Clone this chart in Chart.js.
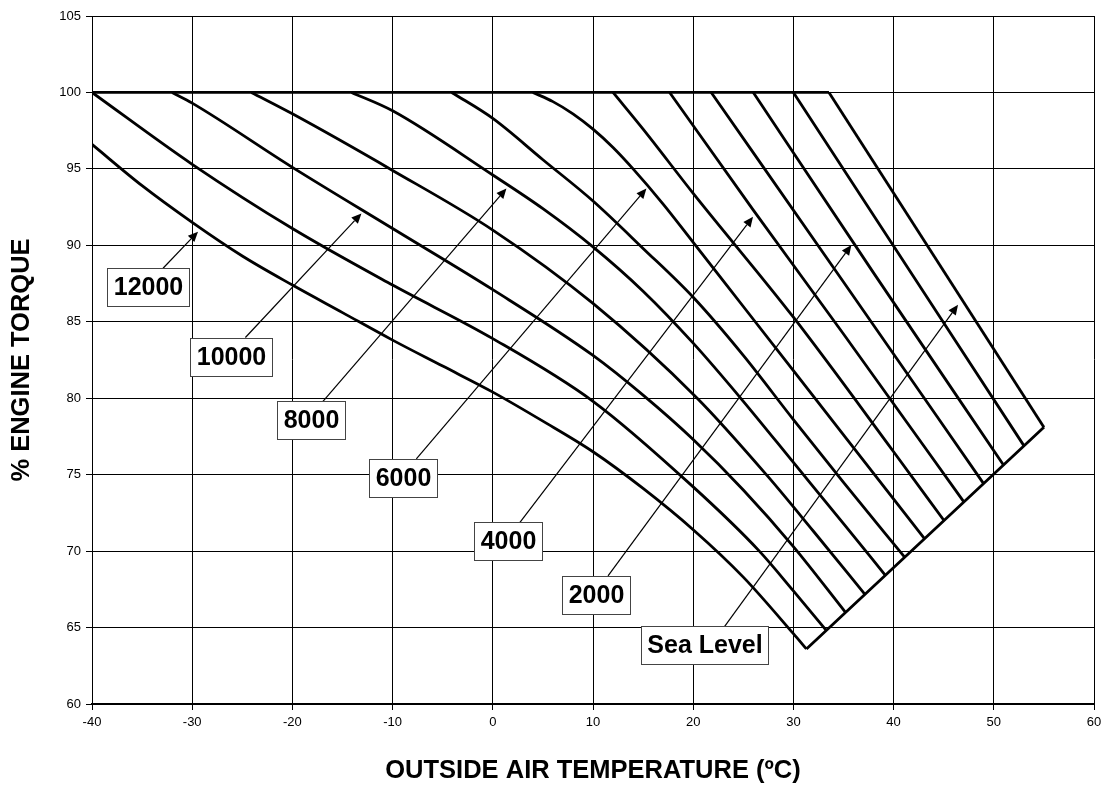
<!DOCTYPE html>
<html>
<head>
<meta charset="utf-8">
<title>% Engine torque vs outside air temperature</title>
<script src="https://cdn.jsdelivr.net/npm/chart.js@4.4.1/dist/chart.umd.min.js"></script>
<style>
  html, body { margin: 0; padding: 0; background: #fff; }
  #wrap { width: 1107px; height: 786px; }
</style>
</head>
<body>
<div id="wrap"><canvas id="torqueChart" width="1107" height="786"></canvas></div>
<script>
"use strict";

// pressure altitude curves, temperature in ºC and torque in %
const altitudes = ["12000", "11000", "10000", "9000", "8000", "7000", "6000",
                   "5000", "4000", "3000", "2000", "1000", "Sea Level"];

const temp12000 = [-40, -35, -30, -25, -20, -15, -10, -5, 0, 5, 10, 15, 20, 25, 30, 31.3];
const torque12000 = [96.6, 93.9, 91.5, 89.3, 87.4, 85.6, 83.8, 82.1, 80.4, 78.5, 76.5, 74.1, 71.4, 68.3, 64.6, 63.6];
const temp11000 = [-40, -30, -20, -10, 0, 10, 20, 26.6, 30, 33.3];
const torque11000 = [100, 95.3, 91.1, 87.4, 83.9, 79.8, 74.2, 70.0, 67.4, 64.8];
const temp10000 = [-32, -30, -20, -10, 0, 10, 15, 20, 25, 30, 35.2];
const torque10000 = [100, 99.3, 95.1, 91.1, 87.1, 82.8, 80.2, 77.3, 74.0, 70.3, 66.0];
const temp9000 = [-24.1, -20, -10, 0, 10, 20.4, 27.3, 32, 37.1];
const torque9000 = [100, 98.6, 94.9, 91.0, 86.2, 80.0, 75.0, 71.3, 67.2];
const temp8000 = [-14.1, -10, 0, 5, 10, 15, 20, 25, 30, 35, 39.2];
const torque8000 = [100, 98.8, 94.6, 92.4, 89.9, 87.0, 83.6, 79.8, 75.8, 71.8, 68.4];
const temp7000 = [-4.1, 0, 5, 10, 15, 20, 25, 30, 35, 41.1];
const torque7000 = [100, 98.3, 95.6, 92.9, 89.8, 86.6, 82.8, 78.6, 74.5, 69.6];
const temp6000 = [4, 6, 8, 10, 12, 14, 17, 20, 25, 30, 35, 43.1];
const torque6000 = [100, 99.4, 98.6, 97.6, 96.4, 95.0, 92.7, 90.2, 86.0, 81.8, 77.6, 70.8];
const temp5000 = [12, 15, 20, 30, 40, 45.03];
const torque5000 = [100, 97.6, 93.4, 85.3, 76.5, 72.0];
const temp4000 = [17.65, 26, 35, 47.03];
const torque4000 = [100, 92.3, 84.2, 73.2];
const temp3000 = [21.8, 35, 49.0];
const torque3000 = [100, 87.6, 74.4];
const temp2000 = [26, 38, 51.0];
const torque2000 = [100, 88.2, 75.6];
const temp1000 = [30, 53.0];
const torque1000 = [100, 76.9];
const tempSea = [33.55, 55.0];
const torqueSea = [100, 78.1];

// 100 % torque limit and the lower edge joining the curve ends
const limitTemp = [-40, 33.55];
const limitTorque = [100, 100];
const edgeTemp = [31.3, 55.0];
const edgeTorque = [63.6, 78.1];

// axis ticks
const tempTicks = [-40, -30, -20, -10, 0, 10, 20, 30, 40, 50, 60];
const torqueTicks = [60, 65, 70, 75, 80, 85, 90, 95, 100, 105];

// boxed labels with arrows
const calloutText = ["12000", "10000", "8000", "6000", "4000", "2000", "Sea Level"];

const curveTemps = [temp12000, temp11000, temp10000, temp9000, temp8000, temp7000, temp6000,
                    temp5000, temp4000, temp3000, temp2000, temp1000, tempSea];
const curveTorques = [torque12000, torque11000, torque10000, torque9000, torque8000, torque7000, torque6000,
                      torque5000, torque4000, torque3000, torque2000, torque1000, torqueSea];

const FONT = "'Liberation Sans', Arial, Helvetica, sans-serif";

function toPoints(xs, ys) {
    return xs.map((x, i) => ({ x: x, y: ys[i] }));
}

function lineSet(label, xs, ys) {
    return {
        label: label,
        data: toPoints(xs, ys),
        showLine: true,
        borderColor: "#000",
        borderWidth: 2.8,
        pointRadius: 0,
        fill: false,
        cubicInterpolationMode: "monotone"
    };
}

const datasets = altitudes.map((alt, i) => lineSet(alt, curveTemps[i], curveTorques[i]));
datasets.push(lineSet("limit", limitTemp, limitTorque));
datasets.push(lineSet("edge", edgeTemp, edgeTorque));

// where the boxes sit and where their arrows point, in chart units
const calloutLayout = [
    { box: [-34.44, 87.25], from: [-32.91, 88.50], to: [-29.42, 90.89] },
    { box: [-26.11, 82.70], from: [-24.69, 83.97], to: [-13.11, 92.09] },
    { box: [-18.12, 78.58], from: [-16.95, 79.80], to: [1.36, 93.72] },
    { box: [-8.94, 74.80], from: [-7.63, 76.04], to: [15.33, 93.72] },
    { box: [1.47, 70.63], from: [2.69, 71.87], to: [25.97, 91.87] },
    { box: [10.25, 67.14], from: [11.50, 68.38], to: [35.79, 90.02] },
    { box: [21.13, 63.85], from: [23.14, 65.08], to: [46.43, 86.11] }
];

const calloutPlugin = {
    id: "callouts",
    afterDatasetsDraw(chart) {
        const ctx = chart.ctx;
        const xs = chart.scales.x;
        const ys = chart.scales.y;
        ctx.save();
        calloutText.forEach((text, i) => {
            const lay = calloutLayout[i];
            const x1 = xs.getPixelForValue(lay.from[0]);
            const y1 = ys.getPixelForValue(lay.from[1]);
            const x2 = xs.getPixelForValue(lay.to[0]);
            const y2 = ys.getPixelForValue(lay.to[1]);
            const ang = Math.atan2(y2 - y1, x2 - x1);
            const headLen = 10, headW = 4.5;
            const bx = x2 - headLen * Math.cos(ang);
            const by = y2 - headLen * Math.sin(ang);

            ctx.strokeStyle = "#000";
            ctx.lineWidth = 1.2;
            ctx.beginPath();
            ctx.moveTo(x1, y1);
            ctx.lineTo(bx, by);
            ctx.stroke();

            ctx.fillStyle = "#000";
            ctx.beginPath();
            ctx.moveTo(x2, y2);
            ctx.lineTo(bx - headW * Math.sin(ang), by + headW * Math.cos(ang));
            ctx.lineTo(bx + headW * Math.sin(ang), by - headW * Math.cos(ang));
            ctx.closePath();
            ctx.fill();

            // label box
            ctx.font = "bold 25px " + FONT;
            const w = Math.round(ctx.measureText(text).width + 12);
            const h = 38;
            const cx = xs.getPixelForValue(lay.box[0]);
            const cy = ys.getPixelForValue(lay.box[1]);
            const left = Math.round(cx - w / 2) + 0.5;
            const top = Math.round(cy - h / 2) + 0.5;
            ctx.fillStyle = "#fff";
            ctx.fillRect(left, top, w, h);
            ctx.strokeStyle = "#444";
            ctx.lineWidth = 1;
            ctx.strokeRect(left, top, w, h);
            ctx.fillStyle = "#000";
            ctx.textAlign = "center";
            ctx.textBaseline = "middle";
            ctx.fillText(text, left + w / 2, top + h / 2 + 1);
        });
        ctx.restore();
    }
};

new Chart(document.getElementById("torqueChart"), {
    type: "scatter",
    data: { datasets: datasets },
    options: {
        responsive: false,
        animation: false,
        layout: { padding: { top: 16, right: 13, left: 0, bottom: 0 } },
        plugins: {
            legend: { display: false },
            tooltip: { enabled: false }
        },
        scales: {
            x: {
                type: "linear",
                min: -40,
                max: 60,
                afterBuildTicks: (axis) => { axis.ticks = tempTicks.map(v => ({ value: v })); },
                afterFit: (axis) => { axis.height = 82; },
                ticks: { color: "#000", font: { family: FONT, size: 13 }, padding: 5 },
                grid: { color: "#000", lineWidth: 1, tickLength: 6 },
                border: { color: "#000", width: 2 },
                title: {
                    display: true,
                    text: "OUTSIDE AIR TEMPERATURE (ºC)",
                    color: "#000",
                    font: { family: FONT, size: 25.5, weight: "bold" },
                    padding: { top: 0, bottom: 0 }
                }
            },
            y: {
                type: "linear",
                min: 60,
                max: 105,
                afterBuildTicks: (axis) => { axis.ticks = torqueTicks.map(v => ({ value: v })); },
                afterFit: (axis) => { axis.width = 92; },
                ticks: { color: "#000", font: { family: FONT, size: 13 }, padding: 5 },
                grid: { color: "#000", lineWidth: 1, tickLength: 6 },
                border: { color: "#000", width: 1 },
                title: {
                    display: true,
                    text: "% ENGINE TORQUE",
                    color: "#000",
                    font: { family: FONT, size: 25.5, weight: "bold" },
                    padding: { top: 7, bottom: 0 }
                }
            }
        }
    },
    plugins: [calloutPlugin]
});
</script>
</body>
</html>
